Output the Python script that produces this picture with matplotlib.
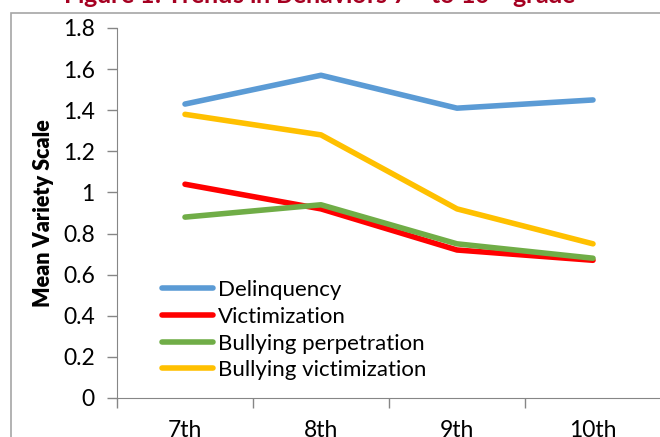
import matplotlib.pyplot as plt
from matplotlib.patches import Rectangle

# grade levels and mean variety scale per behaviour
grades = ["7th", "8th", "9th", "10th"]
delinquency = [1.43, 1.57, 1.41, 1.45]
victimization = [1.04, 0.92, 0.72, 0.67]
bully_perp = [0.88, 0.94, 0.75, 0.68]
bully_vict = [1.38, 1.28, 0.92, 0.75]

plt.rcParams['font.family'] = ['Lato', 'DejaVu Sans']

fig = plt.figure(figsize=(6.6, 4.37), dpi=100)

# outer chart border (cut off on right and bottom)
fig.patches.append(Rectangle((11/660, -0.1), 1.0, (437-13)/437 + 0.1,
                             transform=fig.transFigure, fill=False,
                             edgecolor="#A6A6A6", linewidth=1.2))

# title, mostly cropped away at the top
fig.text(63/660, (437-4)/437, "Figure 1. Trends in Behaviors 7$^{\\mathregular{th}}$ to 10$^{\\mathregular{th}}$ grade",
         color="#A50021", fontsize=18, fontweight="bold", ha="left", va="baseline")

ax = fig.add_axes([117/660, 39/437, 544/660, 370/437])

x = range(len(grades))
ax.plot(x, delinquency, c="#5B9BD5", lw=4, solid_capstyle="round", label="Delinquency")
ax.plot(x, victimization, c="#FF0000", lw=4, solid_capstyle="round", label="Victimization")
ax.plot(x, bully_perp, c="#70AD47", lw=4, solid_capstyle="round", label="Bullying perpetration")
ax.plot(x, bully_vict, c="#FFC000", lw=4, solid_capstyle="round", label="Bullying victimization")

ax.set_xlim(-0.5, 3.5)
ax.set_ylim(0, 1.8)
ax.set_yticks([0, 0.2, 0.4, 0.6, 0.8, 1, 1.2, 1.4, 1.6, 1.8])
ax.set_yticklabels(["0", "0.2", "0.4", "0.6", "0.8", "1", "1.2", "1.4", "1.6", "1.8"])

# major ticks between categories, labels on minor ticks at the centres
ax.set_xticks([-0.5, 0.5, 1.5, 2.5])
ax.set_xticklabels([])
ax.set_xticks(list(x), minor=True)
ax.set_xticklabels(grades, minor=True)
ax.tick_params(axis="x", which="minor", length=0, pad=16, labelsize=16.5)
ax.tick_params(axis="x", which="major", length=7, width=1, color="#868686", direction="out")
ax.tick_params(axis="y", length=7, width=1, color="#868686", labelsize=16.5, pad=9)

for s in ["top", "right"]:
    ax.spines[s].set_visible(False)
ax.spines["left"].set_color("#868686")
ax.spines["bottom"].set_color("#868686")

ax.set_ylabel("Mean Variety Scale", fontsize=15.5, fontweight="heavy", labelpad=6)

ax.legend(loc="lower left", bbox_to_anchor=(0.067, 0.024), frameon=False, fontsize=16,
          handlelength=2.3, handletextpad=0.22, labelspacing=0.3, borderaxespad=0)

fig.savefig("out.png", dpi=100)
